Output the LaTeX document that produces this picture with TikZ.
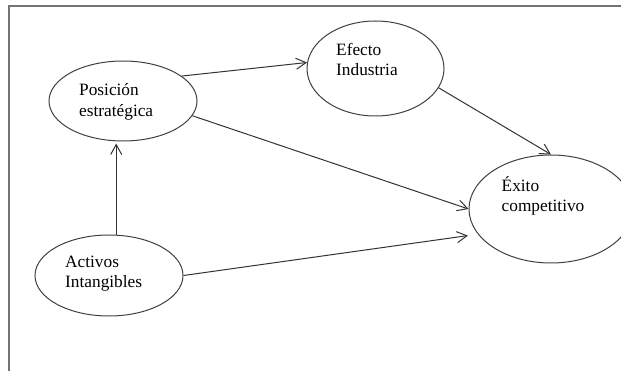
\documentclass[tikz,border=0pt]{standalone}
\usepackage{fontspec}
\setmainfont{Liberation Serif}
\usetikzlibrary{shapes.geometric,arrows.meta}

% two stacked lines whose reference point is the first baseline
\newcommand{\twolines}[2]{\vtop{\baselineskip=20.5pt\hbox{#1}\hbox{#2}}}

\begin{document}
\begin{tikzpicture}[x=1pt,y=-1pt,
  bubble/.style={ellipse, draw=black!75, line width=1pt, inner sep=0pt},
  caption/.style={anchor=base west, inner sep=0pt, text=black,
    font=\fontsize{17.3}{20.5}\selectfont},
  link/.style={draw=black!80, line width=1pt,
    -{Straight Barb[length=10pt,width=11pt,line width=1pt]}},
  frame/.style={draw=black!55, line width=2pt}]

\useasboundingbox (0,0) rectangle (621,371);
\clip (0,0) rectangle (621,371);

% outer frame (top and left edges)
\coordinate (fbl) at (8.5,371);
\coordinate (ftl) at (8.5,6.5);
\coordinate (ftr) at (621,6.5);
\draw[frame] (fbl) -- (ftl) -- (ftr);

% ellipses
\node[bubble, minimum width=148pt, minimum height=80pt] (pos) at (123,101) {};
\node[bubble, minimum width=137pt, minimum height=95pt] (efe) at (375.5,68.5) {};
\node[bubble, minimum width=148pt, minimum height=81pt] (act) at (109,275.5) {};
\node[bubble, minimum width=164pt, minimum height=108pt] (exi) at (551,209) {};

% labels
\node[caption] (posT) at (79,96) {\twolines{Posición}{estratégica}};
\node[caption] (efeT) at (336,55.5) {\twolines{Efecto}{Industria}};
\node[caption] (actT) at (65,267.5) {\twolines{Activos}{Intangibles}};
\node[caption] (exiT) at (501.5,191.5) {\twolines{Éxito}{competitivo}};

% connectors
\draw[link] (pos.23) -- (efe.175);
\draw[link] (efe.-17) -- (exi.north);
\draw[link] (pos.-12) -- (exi.west);
\draw[link, shorten >=2pt] (act.80) -- (act.80 |- pos.south);
\draw[link, shorten >=10pt] (act.east) -- (exi.199);
\end{tikzpicture}
\end{document}
